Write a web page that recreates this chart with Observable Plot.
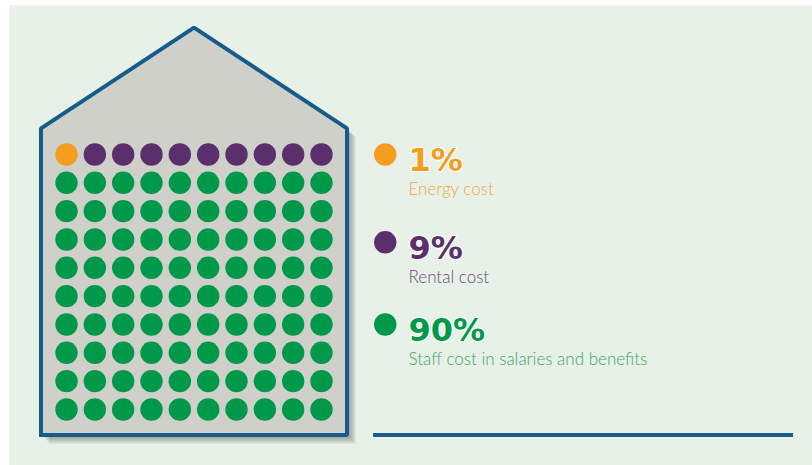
<!DOCTYPE html>
<html>
<head>
<meta charset="utf-8">
<script src="https://cdn.jsdelivr.net/npm/d3@7"></script>
<script src="https://cdn.jsdelivr.net/npm/@observablehq/plot@0.6"></script>
<style>
  html, body { margin: 0; padding: 0; background: #ffffff; }
  #chart svg { display: block; }
</style>
</head>
<body>
<div id="chart"></div>
<script>
// ---- data ----
const categories = ["Energy cost", "Rental cost", "Staff cost in salaries and benefits"];
const percents = [1, 9, 90];
const percentLabels = ["1%", "9%", "90%"];
const dotColors = ["#f59d1e", "#5a2f6c", "#00994a"];
const textColors = ["#f0a744", "#6a4a7c", "#3aa865"];
const legendRows = [0, 3.1, 6.0];   // legend row positions in grid units

// 10 x 10 waffle grid
const cells = [];
let idx = 0;
percents.forEach((p, k) => {
  for (let n = 0; n < p; n++, idx++) {
    cells.push({col: idx % 10, row: Math.floor(idx / 10), cat: categories[k]});
  }
});

const legend = categories.map((c, k) => ({cat: c, label: percentLabels[k], row: legendRows[k], text: textColors[k]}));

// house outline (grid units)
const house = [
  {x: -0.9, y: 9.9}, {x: -0.9, y: -0.92}, {x: 4.5, y: -4.48},
  {x: 9.9, y: -0.92}, {x: 9.9, y: 9.9}, {x: -0.9, y: 9.9}
];
const houseArea = [
  {x: -0.9, top: -0.92, base: 9.9}, {x: 4.5, top: -4.48, base: 9.9}, {x: 9.9, top: -0.92, base: 9.9}
];
const baseLine = [{y: 9.9, x1: 10.84, x2: 25.66}];
const shadowSteps = [9, 7, 5, 3];

const legendX = 11.25, textX = 12.07;

const plot = Plot.plot({
  width: 812,
  height: 465,
  marginLeft: 9, marginTop: 5, marginRight: 0, marginBottom: 0,
  x: {domain: [-2.012, 26.33], axis: null},
  y: {domain: [-5.259, 10.978], reverse: true, axis: null},
  color: {domain: categories, range: dotColors},
  style: {background: "transparent", overflow: "visible"},
  marks: [
    Plot.frame({fill: "#e7f1e8", stroke: null}),
    // soft shadow
    ...shadowSteps.map(s => Plot.areaY(houseArea, {x: "x", y1: "base", y2: "top", fill: "#3c3c36", fillOpacity: 0.13, dx: s, dy: s})),
    Plot.areaY(houseArea, {x: "x", y1: "base", y2: "top", fill: "#cfd0ca"}),
    Plot.line(house, {x: "x", y: "y", stroke: "#165b8c", strokeWidth: 4, strokeLinejoin: "miter", strokeLinecap: "square"}),
    Plot.dot(cells, {x: "col", y: "row", fill: "cat", r: 11.2}),
    // legend
    Plot.dot(legend, {x: () => legendX, y: "row", fill: "cat", r: 11.2}),
    Plot.text(legend, {x: () => textX, y: "row", text: "label", fill: "cat", textAnchor: "start",
      fontSize: 32, fontWeight: "bold", fontFamily: "DejaVu Sans", dy: 6, stroke: "white", strokeWidth: 2, paintOrder: "stroke"}),
    Plot.text(legend, {x: () => textX, y: "row", text: "cat", fill: "text", textAnchor: "start",
      fontSize: 17, fontWeight: 300, fontFamily: "Lato", dy: 35}),
    Plot.ruleY(baseLine, {y: "y", x1: "x1", x2: "x2", stroke: "#165b8c", strokeWidth: 4})
  ]
});

document.getElementById("chart").appendChild(plot);
</script>
</body>
</html>
